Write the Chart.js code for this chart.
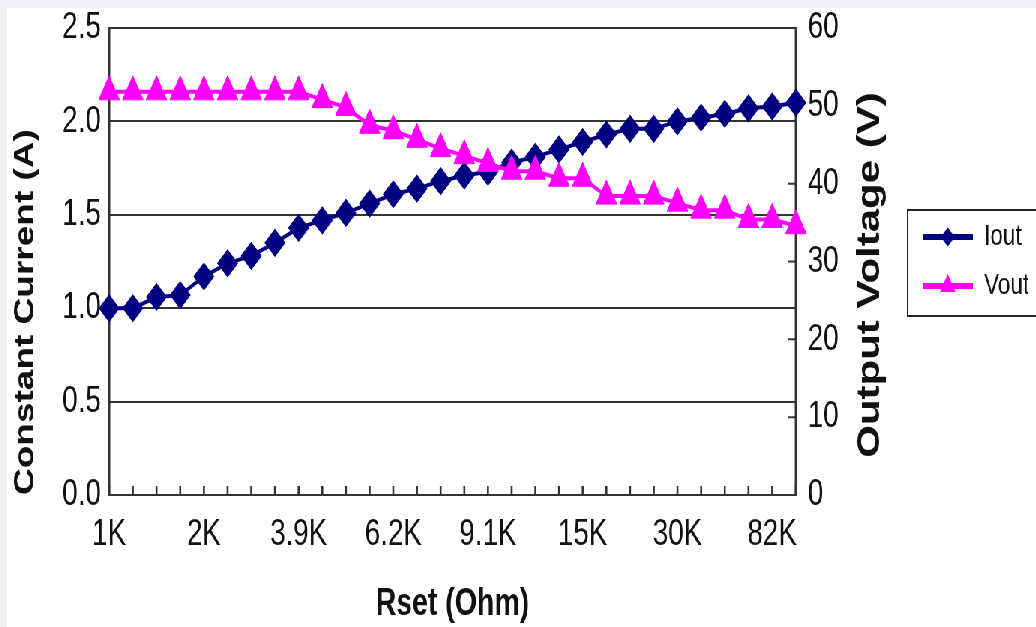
<!DOCTYPE html>
<html>
<head>
<meta charset="utf-8">
<script src="https://cdn.jsdelivr.net/npm/chart.js@4.4.1/dist/chart.umd.min.js"></script>
<style>
  html, body { margin: 0; padding: 0; background: #eef0f3; width: 1036px; height: 627px; overflow: hidden; }
  #wrap { position: absolute; left: 7px; top: 8px; width: 1372px; height: 619px; background: #fff;
          transform: scaleX(0.75); transform-origin: 0 0; }
</style>
</head>
<body>
<div id="wrap"><canvas id="c"></canvas></div>
<script>
const categories = ['1K','1.2K','1.5K','1.8K','2K','2.2K','2.7K','3.3K','3.9K','4.3K','4.7K','5.6K','6.2K','6.8K','7.5K','8.2K','9.1K','10K','12K','13K','15K','18K','20K','24K','30K','39K','51K','62K','82K','100K'];
const ioutValues = [1.00,1.00,1.06,1.07,1.17,1.24,1.28,1.35,1.43,1.47,1.51,1.56,1.61,1.64,1.68,1.71,1.73,1.78,1.81,1.85,1.89,1.93,1.96,1.96,2.00,2.02,2.04,2.07,2.08,2.10];
const voutValues = [51.8,51.8,51.8,51.8,51.8,51.8,51.8,51.8,51.8,50.8,49.8,47.5,46.8,45.7,44.5,43.6,42.6,41.6,41.6,40.7,40.7,38.4,38.4,38.4,37.5,36.6,36.6,35.4,35.4,34.6];
const leftTicks = [0, 0.5, 1.0, 1.5, 2.0, 2.5];
const rightTicks = [0, 10, 20, 30, 40, 50, 60];
const seriesNames = ['Iout', 'Vout'];
const xTitle = 'Rset (Ohm)';
const leftTitle = 'Constant Current (A)';
const rightTitle = 'Output Voltage (V)';

const NAVY = '#000080', MAGENTA = '#ff00ff', INK = '#111111', GRID = '#333333';
const TICKFONT = "'Liberation Sans Narrow', 'Liberation Sans', Arial, sans-serif";
Chart.defaults.font.family = "'Liberation Sans', Arial, sans-serif";
Chart.defaults.color = INK;

const frame = {
  id: 'frame',
  beforeDatasetsDraw(chart) {
    const {ctx, chartArea: a} = chart;
    ctx.save();
    ctx.strokeStyle = GRID;
    ctx.lineWidth = 2;
    ctx.beginPath();
    ctx.moveTo(a.left, a.top); ctx.lineTo(a.right, a.top);
    ctx.moveTo(a.left, a.bottom); ctx.lineTo(a.right, a.bottom);
    ctx.stroke();
    ctx.lineWidth = 3;
    ctx.beginPath();
    ctx.moveTo(a.left, a.top - 1); ctx.lineTo(a.left, a.bottom + 1);
    ctx.moveTo(a.right, a.top - 1); ctx.lineTo(a.right, a.bottom + 1);
    ctx.stroke();
    const xs = chart.scales.x, yr = chart.scales.y1;
    ctx.lineWidth = 2.6;
    ctx.beginPath();
    for (let i = 0; i < categories.length; i++) {
      const px = xs.getPixelForValue(i);
      ctx.moveTo(px, a.bottom); ctx.lineTo(px, a.bottom - 9);
    }
    ctx.stroke();
    ctx.lineWidth = 2;
    ctx.beginPath();
    for (const v of rightTicks) {
      const py = yr.getPixelForValue(v);
      ctx.moveTo(a.right, py); ctx.lineTo(a.right - 11, py);
    }
    ctx.stroke();
    ctx.restore();
  },
  afterDraw(chart) {
    const {ctx} = chart;
    ctx.save();
    ctx.fillStyle = INK;
    ctx.font = "bold 42px 'Liberation Sans', Arial, sans-serif";
    ctx.textAlign = 'center';
    ctx.textBaseline = 'middle';
    ctx.translate(1151, 267);
    ctx.rotate(-Math.PI / 2);
    ctx.fillText(rightTitle, 0, 0);
    ctx.restore();
    const lg = chart.legend;
    if (lg && lg.legendHitBoxes && lg.legendHitBoxes.length) {
      const hb = lg.legendHitBoxes;
      ctx.save();
      ctx.strokeStyle = '#222';
      ctx.lineWidth = 2;
      ctx.strokeRect(hb[0].left - 20, 202, 400, 106);
      const bw = lg.options.labels.boxWidth, fs = lg.options.labels.font.size;
      const styles = [{pointStyle: 'rectRot', radius: 8, color: NAVY}, {pointStyle: 'triangle', radius: 10, color: MAGENTA}];
      hb.forEach((h, i) => {
        const st = styles[lg.legendItems[i].datasetIndex];
        ctx.fillStyle = st.color; ctx.strokeStyle = st.color;
        Chart.helpers.drawPoint(ctx, {pointStyle: st.pointStyle, radius: st.radius, borderWidth: 1, rotation: 0}, h.left + bw / 2, h.top + fs / 2);
      });
      ctx.restore();
    }
  }
};

new Chart(document.getElementById('c'), {
  type: 'line',
  data: {
    labels: categories,
    datasets: [
      { label: seriesNames[0], data: ioutValues, yAxisID: 'y', order: 1, clip: false,
        borderColor: NAVY, backgroundColor: NAVY, borderWidth: 4,
        pointStyle: 'rectRot', pointRadius: 13, pointBackgroundColor: NAVY, pointBorderColor: NAVY, pointBorderWidth: 1.5,
        tension: 0 },
      { label: seriesNames[1], data: voutValues, yAxisID: 'y1', order: 0, clip: false,
        borderColor: MAGENTA, backgroundColor: MAGENTA, borderWidth: 4,
        pointStyle: 'triangle', pointRadius: 16, pointBackgroundColor: MAGENTA, pointBorderColor: MAGENTA, pointBorderWidth: 1,
        tension: 0 }
    ]
  },
  options: {
    responsive: true, maintainAspectRatio: false, animation: false, devicePixelRatio: 1,
    layout: { padding: { left: 0, top: 20, right: 10, bottom: 0 } },
    plugins: {
      tooltip: { enabled: false },
      legend: {
        display: true, position: 'right', align: 'center', fullSize: false, maxWidth: 160,
        labels: {
          boxWidth: 67, boxHeight: 6, padding: 19, color: INK,
          font: { size: 30, family: TICKFONT },
          sort: (a, b) => a.datasetIndex - b.datasetIndex,
          generateLabels(chart) {
            const items = Chart.defaults.plugins.legend.labels.generateLabels(chart);
            items.forEach(it => { const ds = chart.data.datasets[it.datasetIndex]; it.fillStyle = ds.borderColor; it.strokeStyle = ds.borderColor; it.lineWidth = 0; });
            return items;
          }
        }
      }
    },
    scales: {
      x: {
        type: 'category', offset: false,
        grid: { display: false, drawTicks: false },
        border: { display: false },
        afterFit(s) { s.height = 132; s.paddingLeft = 0; s.paddingRight = 0; },
        ticks: {
          autoSkip: false, maxRotation: 0, minRotation: 0, padding: 18, color: INK,
          font: { size: 37, family: TICKFONT },
          callback(v, i) { return i % 4 === 0 ? categories[i] : ''; }
        },
        title: { display: true, text: xTitle, color: INK, font: { size: 38, weight: 'bold' }, padding: { top: 0, bottom: 0 } }
      },
      y: {
        position: 'left', min: 0, max: 2.5,
        afterFit(s) { s.width = 136; s.paddingTop = 0; s.paddingBottom = 0; },
        afterBuildTicks(s) { s.ticks = leftTicks.map(v => ({ value: v })); },
        grid: { color: GRID, lineWidth: 2, drawTicks: false },
        border: { display: false },
        ticks: { padding: 11, color: INK, font: { size: 37, family: TICKFONT }, callback: v => Number(v).toFixed(1) },
        title: { display: true, text: leftTitle, align: 'start', color: INK, font: { size: 37, weight: 'bold' }, padding: { top: 3, bottom: 0 } }
      },
      y1: {
        position: 'right', min: 0, max: 60,
        afterFit(s) { s.width = 150; s.paddingTop = 0; s.paddingBottom = 0; },
        afterBuildTicks(s) { s.ticks = rightTicks.map(v => ({ value: v })); },
        grid: { display: false, drawTicks: false },
        border: { display: false },
        ticks: { padding: 16, color: INK, font: { size: 37, family: TICKFONT } },
        title: { display: false }
      }
    }
  },
  plugins: [frame]
});
</script>
</body>
</html>
